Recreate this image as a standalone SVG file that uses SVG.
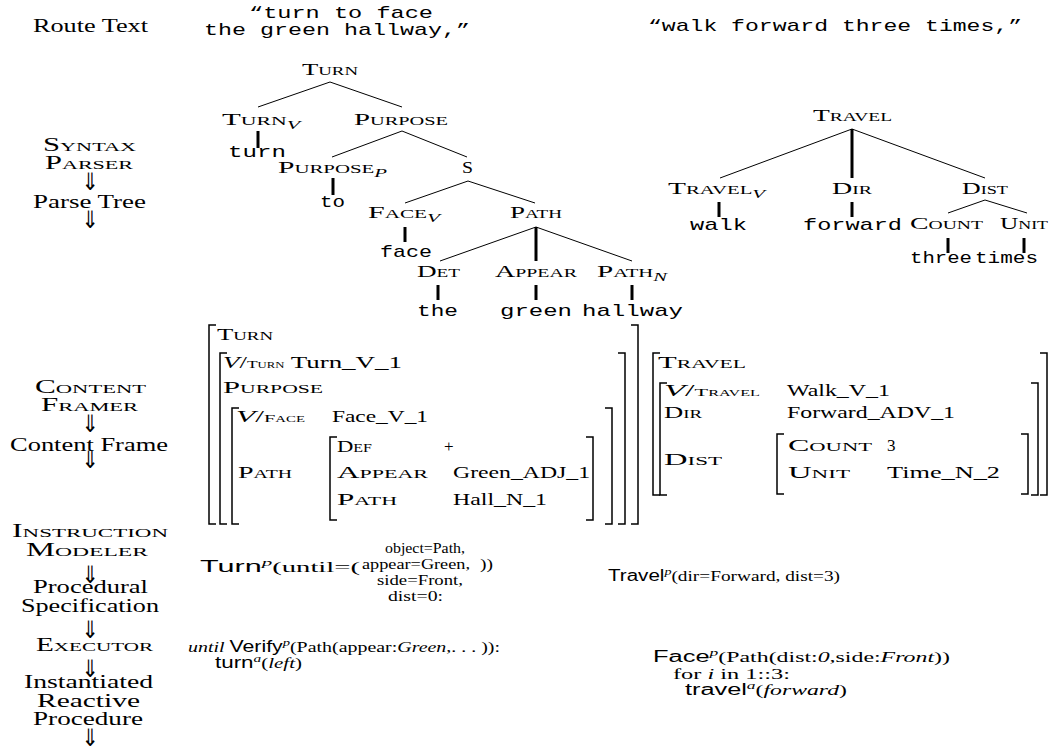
<svg xmlns="http://www.w3.org/2000/svg" width="1062" height="751" viewBox="0 0 1062 751">
<style>
text{fill:#000}
.rm{font-family:"Liberation Serif",serif}
.sc{font-family:"Liberation Serif",serif;font-variant:small-caps;font-size:17px}
.lb{font-family:"Liberation Serif",serif;font-size:18px}
.lbsc{font-family:"Liberation Serif",serif;font-size:18px;font-variant:small-caps}
.tt{font-family:"Liberation Mono",monospace;font-size:17px}
.sf{font-family:"Liberation Sans",sans-serif}
.cf{font-family:"Liberation Serif",serif;font-size:17px}
.bt{font-family:"Liberation Serif",serif;font-size:15px}
.arr{font-family:"DejaVu Sans",sans-serif;font-size:24px;text-anchor:middle;fill:#000}
.sub{font-style:italic;font-variant:normal;font-size:12px}
.edge{stroke:#000;stroke-width:1;fill:none}
.stem{stroke:#000;stroke-width:3;fill:none}
.br{fill:none;stroke:#000;stroke-width:1.5}
</style>
<rect width="1062" height="751" fill="#fff"/>

<!-- left column -->
<g id="stages">
<text class="lb" x="33" y="32" textLength="115" lengthAdjust="spacingAndGlyphs">Route Text</text>
<text class="lbsc" x="43" y="151" textLength="93" lengthAdjust="spacingAndGlyphs">Syntax</text>
<text class="lbsc" x="45" y="169" textLength="88" lengthAdjust="spacingAndGlyphs">Parser</text>
<text class="arr" transform="translate(90,190) scale(0.85,1)">⇓</text>
<text class="lb" x="33" y="208" textLength="113" lengthAdjust="spacingAndGlyphs">Parse Tree</text>
<text class="arr" transform="translate(90,228) scale(0.85,1)">⇓</text>
<text class="lbsc" x="35" y="393" textLength="111" lengthAdjust="spacingAndGlyphs">Content</text>
<text class="lbsc" x="41" y="411" textLength="97" lengthAdjust="spacingAndGlyphs">Framer</text>
<text class="arr" transform="translate(90,432) scale(0.85,1)">⇓</text>
<text class="lb" x="10" y="451" textLength="158" lengthAdjust="spacingAndGlyphs">Content Frame</text>
<text class="arr" transform="translate(90,468) scale(0.85,1)">⇓</text>
<text class="lbsc" x="12" y="537" textLength="156" lengthAdjust="spacingAndGlyphs">Instruction</text>
<text class="lbsc" x="26" y="556" textLength="122" lengthAdjust="spacingAndGlyphs">Modeler</text>
<text class="arr" transform="translate(90,583) scale(0.85,1)">⇓</text>
<text class="lb" x="33" y="593" textLength="115" lengthAdjust="spacingAndGlyphs">Procedural</text>
<text class="lb" x="21" y="612" textLength="138" lengthAdjust="spacingAndGlyphs">Specification</text>
<text class="arr" transform="translate(90,638) scale(0.85,1)">⇓</text>
<text class="lbsc" x="36" y="651" textLength="117" lengthAdjust="spacingAndGlyphs">Executor</text>
<text class="arr" transform="translate(90,677) scale(0.85,1)">⇓</text>
<text class="lb" x="24" y="688" textLength="129" lengthAdjust="spacingAndGlyphs">Instantiated</text>
<text class="lb" x="37" y="707" textLength="103" lengthAdjust="spacingAndGlyphs">Reactive</text>
<text class="lb" x="33" y="725" textLength="110" lengthAdjust="spacingAndGlyphs">Procedure</text>
<text class="arr" transform="translate(90,746) scale(0.85,1)">⇓</text>
</g>

<!-- route texts -->
<g id="route1">
<text class="tt" x="249" y="18" textLength="184" lengthAdjust="spacingAndGlyphs">“turn to face</text>
<text class="tt" x="204" y="35" textLength="266" lengthAdjust="spacingAndGlyphs">the green hallway,”</text>
</g>
<g id="route2">
<text class="tt" x="648" y="31" textLength="374" lengthAdjust="spacingAndGlyphs">“walk forward three times,”</text>
</g>

<!-- tree connectors -->
<g id="connectors">
<line class="edge" x1="330" y1="82" x2="258" y2="107"/>
<line class="edge" x1="330" y1="82" x2="402" y2="107"/>
<line class="stem" x1="258" y1="131" x2="258" y2="148"/>
<line class="edge" x1="402" y1="131" x2="332" y2="157"/>
<line class="edge" x1="402" y1="131" x2="467" y2="157"/>
<line class="stem" x1="333" y1="178" x2="333" y2="195"/>
<line class="edge" x1="468" y1="181" x2="405" y2="203"/>
<line class="edge" x1="468" y1="181" x2="535" y2="203"/>
<line class="stem" x1="405" y1="227" x2="405" y2="242"/>
<line class="edge" x1="536" y1="227" x2="440" y2="261"/>
<line class="stem" x1="536" y1="227" x2="536" y2="261"/>
<line class="edge" x1="536" y1="227" x2="632" y2="261"/>
<line class="stem" x1="438" y1="285" x2="438" y2="300"/>
<line class="stem" x1="536" y1="285" x2="536" y2="300"/>
<line class="stem" x1="632" y1="285" x2="632" y2="300"/>

<line class="edge" x1="852" y1="129" x2="720" y2="178"/>
<line class="stem" x1="852" y1="129" x2="852" y2="178"/>
<line class="edge" x1="852" y1="129" x2="985" y2="178"/>
<line class="stem" x1="719" y1="202" x2="719" y2="217"/>
<line class="stem" x1="852" y1="202" x2="852" y2="217"/>
<line class="edge" x1="985" y1="200" x2="948" y2="213"/>
<line class="edge" x1="985" y1="200" x2="1027" y2="213"/>
<line class="stem" x1="948" y1="238" x2="948" y2="253"/>
<line class="stem" x1="1024" y1="238" x2="1024" y2="253"/>
</g>

<!-- tree 1 nodes -->
<g id="t1-turn"><text class="sc" x="302" y="75" textLength="56" lengthAdjust="spacingAndGlyphs">Turn</text></g>
<g id="t1-turnv"><text class="sc" x="222" y="125" textLength="78" lengthAdjust="spacingAndGlyphs">Turn<tspan class="sub" dy="4">V</tspan></text></g>
<g id="t1-purpose"><text class="sc" x="354" y="125" textLength="94" lengthAdjust="spacingAndGlyphs">Purpose</text></g>
<g id="t1-w-turn"><text class="tt" x="228" y="157" textLength="58" lengthAdjust="spacingAndGlyphs">turn</text></g>
<g id="t1-purposep"><text class="sc" x="278" y="173" textLength="109" lengthAdjust="spacingAndGlyphs">Purpose<tspan class="sub" dy="4">P</tspan></text></g>
<g id="t1-s"><text class="sc" x="462" y="173" textLength="11" lengthAdjust="spacingAndGlyphs">S</text></g>
<g id="t1-w-to"><text class="tt" x="320" y="207" textLength="25" lengthAdjust="spacingAndGlyphs">to</text></g>
<g id="t1-facev"><text class="sc" x="368" y="218" textLength="72" lengthAdjust="spacingAndGlyphs">Face<tspan class="sub" dy="4">V</tspan></text></g>
<g id="t1-path"><text class="sc" x="510" y="218" textLength="52" lengthAdjust="spacingAndGlyphs">Path</text></g>
<g id="t1-w-face"><text class="tt" x="380" y="257" textLength="52" lengthAdjust="spacingAndGlyphs">face</text></g>
<g id="t1-det"><text class="sc" x="417" y="277" textLength="43" lengthAdjust="spacingAndGlyphs">Det</text></g>
<g id="t1-appear"><text class="sc" x="495" y="277" textLength="82" lengthAdjust="spacingAndGlyphs">Appear</text></g>
<g id="t1-pathn"><text class="sc" x="597" y="277" textLength="70" lengthAdjust="spacingAndGlyphs">Path<tspan class="sub" dy="4">N</tspan></text></g>
<g id="t1-w-the"><text class="tt" x="417" y="316" textLength="41" lengthAdjust="spacingAndGlyphs">the</text></g>
<g id="t1-w-green"><text class="tt" x="500" y="316" textLength="72" lengthAdjust="spacingAndGlyphs">green</text></g>
<g id="t1-w-hallway"><text class="tt" x="582" y="316" textLength="101" lengthAdjust="spacingAndGlyphs">hallway</text></g>

<!-- tree 2 nodes -->
<g id="t2-travel"><text class="sc" x="813" y="121" textLength="79" lengthAdjust="spacingAndGlyphs">Travel</text></g>
<g id="t2-travelv"><text class="sc" x="668" y="194" textLength="97" lengthAdjust="spacingAndGlyphs">Travel<tspan class="sub" dy="4">V</tspan></text></g>
<g id="t2-dir"><text class="sc" x="832" y="194" textLength="40" lengthAdjust="spacingAndGlyphs">Dir</text></g>
<g id="t2-dist"><text class="sc" x="962" y="194" textLength="46" lengthAdjust="spacingAndGlyphs">Dist</text></g>
<g id="t2-w-walk"><text class="tt" x="690" y="230" textLength="57" lengthAdjust="spacingAndGlyphs">walk</text></g>
<g id="t2-w-forward"><text class="tt" x="803" y="230" textLength="99" lengthAdjust="spacingAndGlyphs">forward</text></g>
<g id="t2-count"><text class="sc" x="910" y="229" textLength="73" lengthAdjust="spacingAndGlyphs">Count</text></g>
<g id="t2-unit"><text class="sc" x="1000" y="229" textLength="48" lengthAdjust="spacingAndGlyphs">Unit</text></g>
<g id="t2-w-three"><text class="tt" x="910" y="263" textLength="62" lengthAdjust="spacingAndGlyphs">three</text></g>
<g id="t2-w-times"><text class="tt" x="975" y="263" textLength="63" lengthAdjust="spacingAndGlyphs">times</text></g>

<!-- content frame 1 -->
<g id="frame1">
<path class="br" d="M216 325H209V524H216"/>
<path class="br" d="M631 325H638V524H631"/>
<path class="br" d="M227 353H220V524H227"/>
<path class="br" d="M618 353H625V524H618"/>
<path class="br" d="M239 408H232V524H239"/>
<path class="br" d="M605 408H612V524H605"/>
<path class="br" d="M337 437H330V520H337"/>
<path class="br" d="M586 437H593V520H586"/>
<text class="cf" x="217" y="340" textLength="56" lengthAdjust="spacingAndGlyphs" style="font-variant:small-caps">Turn</text>
<text class="cf" x="223" y="368" textLength="179" lengthAdjust="spacingAndGlyphs"><tspan font-style="italic">V</tspan>/<tspan font-size="11" style="font-variant:small-caps">Turn</tspan> Turn_V_1</text>
<text class="cf" x="223" y="393" textLength="100" lengthAdjust="spacingAndGlyphs" style="font-variant:small-caps">Purpose</text>
<text class="cf" x="236" y="422" textLength="69" lengthAdjust="spacingAndGlyphs"><tspan font-style="italic">V</tspan>/<tspan font-size="11" style="font-variant:small-caps">Face</tspan></text>
<text class="cf" x="332" y="422" textLength="96" lengthAdjust="spacingAndGlyphs">Face_V_1</text>
<text class="cf" x="337" y="452" textLength="35" lengthAdjust="spacingAndGlyphs" style="font-variant:small-caps">Def</text>
<text class="cf" x="444" y="452">+</text>
<text class="cf" x="238" y="478" textLength="54" lengthAdjust="spacingAndGlyphs" style="font-variant:small-caps">Path</text>
<text class="cf" x="337" y="478" textLength="91" lengthAdjust="spacingAndGlyphs" style="font-variant:small-caps">Appear</text>
<text class="cf" x="453" y="478" textLength="137" lengthAdjust="spacingAndGlyphs">Green_ADJ_1</text>
<text class="cf" x="337" y="505" textLength="60" lengthAdjust="spacingAndGlyphs" style="font-variant:small-caps">Path</text>
<text class="cf" x="453" y="505" textLength="94" lengthAdjust="spacingAndGlyphs">Hall_N_1</text>
</g>

<!-- content frame 2 -->
<g id="frame2">
<path class="br" d="M660 353H653V495H660"/>
<path class="br" d="M1040 353H1047V495H1040"/>
<path class="br" d="M667 383H660V495H667"/>
<path class="br" d="M1031 383H1038V495H1031"/>
<path class="br" d="M784 434H777V494H784"/>
<path class="br" d="M1021 434H1028V494H1021"/>
<text class="cf" x="658" y="368" textLength="88" lengthAdjust="spacingAndGlyphs" style="font-variant:small-caps">Travel</text>
<text class="cf" x="664" y="396" textLength="96" lengthAdjust="spacingAndGlyphs"><tspan font-style="italic">V</tspan>/<tspan font-size="11" style="font-variant:small-caps">Travel</tspan></text>
<text class="cf" x="787" y="396" textLength="103" lengthAdjust="spacingAndGlyphs">Walk_V_1</text>
<text class="cf" x="664" y="418" textLength="38" lengthAdjust="spacingAndGlyphs" style="font-variant:small-caps">Dir</text>
<text class="cf" x="787" y="418" textLength="168" lengthAdjust="spacingAndGlyphs">Forward_ADV_1</text>
<text class="cf" x="664" y="465" textLength="58" lengthAdjust="spacingAndGlyphs" style="font-variant:small-caps">Dist</text>
<text class="cf" x="788" y="451" textLength="84" lengthAdjust="spacingAndGlyphs" style="font-variant:small-caps">Count</text>
<text class="cf" x="887" y="451">3</text>
<text class="cf" x="788" y="478" textLength="62" lengthAdjust="spacingAndGlyphs" style="font-variant:small-caps">Unit</text>
<text class="cf" x="887" y="478" textLength="113" lengthAdjust="spacingAndGlyphs">Time_N_2</text>
</g>

<!-- procedural specification -->
<g id="spec1">
<text class="bt" x="200" y="572" textLength="160" lengthAdjust="spacingAndGlyphs"><tspan class="sf" font-size="16">Turn</tspan><tspan font-style="italic" font-size="11" dy="-6">p</tspan><tspan dy="6">(until=(</tspan></text>
<text class="bt" x="385" y="553" textLength="80" lengthAdjust="spacingAndGlyphs">object=Path,</text>
<text class="bt" x="362" y="569" textLength="108" lengthAdjust="spacingAndGlyphs">appear=Green,</text>
<text class="bt" x="480" y="569" textLength="13" lengthAdjust="spacingAndGlyphs">))</text>
<text class="bt" x="377" y="585" textLength="86" lengthAdjust="spacingAndGlyphs">side=Front,</text>
<text class="bt" x="388" y="601" textLength="55" lengthAdjust="spacingAndGlyphs">dist=0:</text>
</g>
<g id="spec2">
<text class="bt" x="608" y="581" textLength="232" lengthAdjust="spacingAndGlyphs"><tspan class="sf" font-size="16">Travel</tspan><tspan font-style="italic" font-size="11" dy="-6">p</tspan><tspan dy="6">(dir=Forward, dist=3)</tspan></text>
</g>

<!-- reactive procedures -->
<g id="proc1">
<text class="bt" x="188" y="652" textLength="312" lengthAdjust="spacingAndGlyphs"><tspan font-style="italic">until</tspan> <tspan class="sf" font-size="16">Verify</tspan><tspan font-style="italic" font-size="11" dy="-6">p</tspan><tspan dy="6">(Path(appear:</tspan><tspan font-style="italic">Green</tspan>,. . . )):</text>
<text class="bt" x="215" y="668" textLength="87" lengthAdjust="spacingAndGlyphs"><tspan class="sf" font-size="16">turn</tspan><tspan font-style="italic" font-size="11" dy="-6">a</tspan><tspan dy="6">(</tspan><tspan font-style="italic">left</tspan>)</text>
</g>
<g id="proc2">
<text class="bt" x="653" y="662" textLength="297" lengthAdjust="spacingAndGlyphs"><tspan class="sf" font-size="16">Face</tspan><tspan font-style="italic" font-size="11" dy="-6">p</tspan><tspan dy="6">(Path(dist:</tspan><tspan font-style="italic">0</tspan>,side:<tspan font-style="italic">Front</tspan>))</text>
<text class="bt" x="673" y="679" textLength="117" lengthAdjust="spacingAndGlyphs">for <tspan font-style="italic">i</tspan> in 1::3:</text>
<text class="bt" x="685" y="695" textLength="162" lengthAdjust="spacingAndGlyphs"><tspan class="sf" font-size="16">travel</tspan><tspan font-style="italic" font-size="11" dy="-6">a</tspan><tspan dy="6">(</tspan><tspan font-style="italic">forward</tspan>)</text>
</g>
</svg>
